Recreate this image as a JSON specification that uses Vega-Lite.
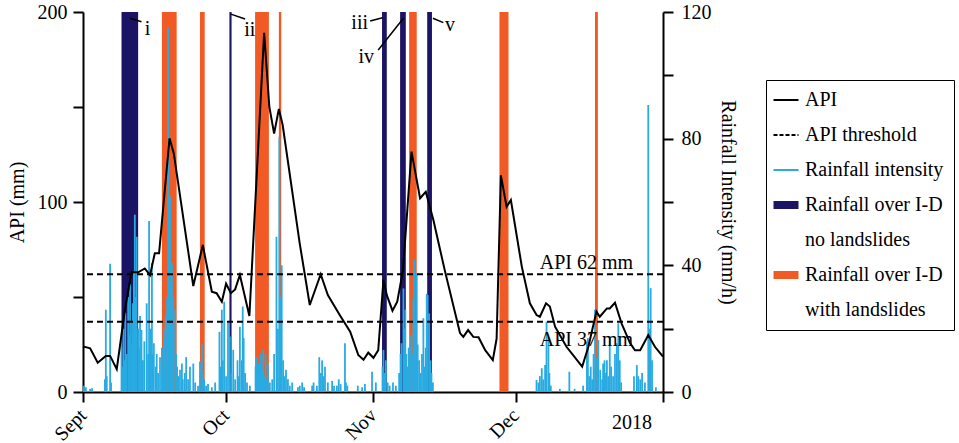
{
  "$schema": "https://vega.github.io/schema/vega-lite/v6.json",
  "width": 580,
  "height": 380,
  "autosize": {"type": "pad"},
  "padding": {"left": 7, "top": 2, "right": 0, "bottom": 0},
  "background": "white",
  "config": {
    "view": {"stroke": null},
    "font": "Liberation Serif",
    "axis": {
      "labelFont": "Liberation Serif", "titleFont": "Liberation Serif",
      "labelFontSize": 20, "titleFontSize": 20, "titleFontWeight": "normal",
      "labelColor": "black", "titleColor": "black",
      "domainColor": "black", "tickColor": "black",
      "domainWidth": 2, "tickWidth": 2, "tickSize": 10, "grid": false
    },
    "text": {"font": "Liberation Serif", "fontSize": 20, "color": "black"}
  },
  "datasets": {
    "bands": [
      {"start": 8.1, "end": 11.6, "type": "Rainfall over I-D (no landslides)"},
      {"start": 16.6, "end": 19.7, "type": "Rainfall over I-D (with landslides)"},
      {"start": 24.6, "end": 25.6, "type": "Rainfall over I-D (with landslides)"},
      {"start": 30.8, "end": 31.25, "type": "Rainfall over I-D (no landslides)"},
      {"start": 36.2, "end": 39.1, "type": "Rainfall over I-D (with landslides)"},
      {"start": 41.2, "end": 41.7, "type": "Rainfall over I-D (with landslides)"},
      {"start": 62.9, "end": 63.9, "type": "Rainfall over I-D (no landslides)"},
      {"start": 66.7, "end": 67.9, "type": "Rainfall over I-D (no landslides)"},
      {"start": 68.6, "end": 70.2, "type": "Rainfall over I-D (with landslides)"},
      {"start": 72.4, "end": 73.4, "type": "Rainfall over I-D (no landslides)"},
      {"start": 87.6, "end": 89.5, "type": "Rainfall over I-D (with landslides)"},
      {"start": 107.7, "end": 108.3, "type": "Rainfall over I-D (with landslides)"}
    ],
    "rain": [
      {"day": 0.2, "mmh": 2}, {"day": 0.6, "mmh": 1.5}, {"day": 1.5, "mmh": 1}, {"day": 1.9, "mmh": 1.2},
      {"day": 4.6, "mmh": 4}, {"day": 4.8, "mmh": 26}, {"day": 5.0, "mmh": 5}, {"day": 5.7, "mmh": 40.5}, {"day": 5.9, "mmh": 3},
      {"day": 8.1, "mmh": 14}, {"day": 8.3, "mmh": 8}, {"day": 8.5, "mmh": 20}, {"day": 8.7, "mmh": 10}, {"day": 8.9, "mmh": 25},
      {"day": 9.2, "mmh": 12}, {"day": 9.5, "mmh": 30}, {"day": 9.7, "mmh": 18}, {"day": 9.9, "mmh": 34}, {"day": 10.1, "mmh": 22},
      {"day": 10.3, "mmh": 15}, {"day": 10.5, "mmh": 28}, {"day": 10.7, "mmh": 38}, {"day": 10.9, "mmh": 56}, {"day": 11.1, "mmh": 30},
      {"day": 11.3, "mmh": 49}, {"day": 11.6, "mmh": 20}, {"day": 11.8, "mmh": 14}, {"day": 12.0, "mmh": 24}, {"day": 12.3, "mmh": 19.6},
      {"day": 12.6, "mmh": 10}, {"day": 12.9, "mmh": 16}, {"day": 13.4, "mmh": 28}, {"day": 13.7, "mmh": 12}, {"day": 13.9, "mmh": 54},
      {"day": 14.2, "mmh": 20}, {"day": 14.5, "mmh": 40.7}, {"day": 14.7, "mmh": 12}, {"day": 14.9, "mmh": 15.4}, {"day": 15.3, "mmh": 8},
      {"day": 15.5, "mmh": 12}, {"day": 15.8, "mmh": 6}, {"day": 16.2, "mmh": 11}, {"day": 16.6, "mmh": 14}, {"day": 16.8, "mmh": 8},
      {"day": 17.0, "mmh": 20}, {"day": 17.2, "mmh": 17}, {"day": 17.4, "mmh": 24}, {"day": 17.7, "mmh": 30}, {"day": 17.9, "mmh": 115},
      {"day": 18.2, "mmh": 35}, {"day": 18.3, "mmh": 61.7}, {"day": 18.5, "mmh": 25}, {"day": 18.7, "mmh": 40.7}, {"day": 18.9, "mmh": 20},
      {"day": 19.0, "mmh": 30}, {"day": 19.4, "mmh": 26}, {"day": 19.6, "mmh": 12}, {"day": 19.8, "mmh": 8}, {"day": 20.1, "mmh": 5},
      {"day": 20.4, "mmh": 7}, {"day": 20.8, "mmh": 9}, {"day": 21.0, "mmh": 4}, {"day": 21.4, "mmh": 6}, {"day": 21.7, "mmh": 11},
      {"day": 22.1, "mmh": 4}, {"day": 22.5, "mmh": 8}, {"day": 23.2, "mmh": 9}, {"day": 23.6, "mmh": 3}, {"day": 24.2, "mmh": 2},
      {"day": 24.6, "mmh": 9.6}, {"day": 25.0, "mmh": 15.4}, {"day": 25.2, "mmh": 6}, {"day": 25.5, "mmh": 4}, {"day": 25.9, "mmh": 2},
      {"day": 26.3, "mmh": 2.5}, {"day": 27.1, "mmh": 1.5}, {"day": 27.8, "mmh": 3}, {"day": 28.7, "mmh": 19}, {"day": 28.9, "mmh": 8},
      {"day": 29.2, "mmh": 26}, {"day": 29.4, "mmh": 10}, {"day": 29.7, "mmh": 28.5}, {"day": 30.1, "mmh": 5}, {"day": 30.5, "mmh": 22},
      {"day": 30.9, "mmh": 17.5}, {"day": 31.2, "mmh": 6}, {"day": 31.6, "mmh": 13.3}, {"day": 32.0, "mmh": 4}, {"day": 32.5, "mmh": 10},
      {"day": 32.7, "mmh": 5}, {"day": 33.0, "mmh": 20.6}, {"day": 33.4, "mmh": 10}, {"day": 33.6, "mmh": 27}, {"day": 33.8, "mmh": 17},
      {"day": 34.1, "mmh": 6}, {"day": 34.5, "mmh": 3}, {"day": 35.1, "mmh": 2},
      {"day": 36.3, "mmh": 8}, {"day": 36.5, "mmh": 11}, {"day": 36.7, "mmh": 6}, {"day": 37.0, "mmh": 9}, {"day": 37.2, "mmh": 4},
      {"day": 37.4, "mmh": 12}, {"day": 37.7, "mmh": 7}, {"day": 37.9, "mmh": 13.3}, {"day": 38.2, "mmh": 5}, {"day": 38.4, "mmh": 12},
      {"day": 38.6, "mmh": 4}, {"day": 38.9, "mmh": 9}, {"day": 39.3, "mmh": 3}, {"day": 39.8, "mmh": 4}, {"day": 40.2, "mmh": 12},
      {"day": 40.7, "mmh": 49}, {"day": 41.0, "mmh": 20}, {"day": 41.3, "mmh": 80.6}, {"day": 41.6, "mmh": 30}, {"day": 41.8, "mmh": 40},
      {"day": 42.1, "mmh": 10}, {"day": 42.4, "mmh": 5}, {"day": 42.7, "mmh": 7}, {"day": 43.1, "mmh": 4}, {"day": 43.5, "mmh": 2},
      {"day": 44.0, "mmh": 3}, {"day": 45.2, "mmh": 1.5}, {"day": 45.6, "mmh": 2}, {"day": 46.1, "mmh": 3}, {"day": 46.5, "mmh": 1.5},
      {"day": 48.2, "mmh": 2}, {"day": 48.5, "mmh": 3}, {"day": 49.2, "mmh": 2}, {"day": 49.7, "mmh": 11}, {"day": 50.0, "mmh": 6},
      {"day": 50.3, "mmh": 10}, {"day": 50.6, "mmh": 5}, {"day": 50.9, "mmh": 8}, {"day": 51.5, "mmh": 3}, {"day": 52.4, "mmh": 3.5},
      {"day": 52.8, "mmh": 2}, {"day": 53.4, "mmh": 2}, {"day": 53.8, "mmh": 4}, {"day": 54.2, "mmh": 2.5}, {"day": 55.1, "mmh": 15.4},
      {"day": 55.3, "mmh": 3}, {"day": 55.6, "mmh": 2}, {"day": 57.8, "mmh": 2}, {"day": 58.7, "mmh": 1.5}, {"day": 59.3, "mmh": 2.5},
      {"day": 60.8, "mmh": 6.4}, {"day": 61.6, "mmh": 3},
      {"day": 63.0, "mmh": 8}, {"day": 63.2, "mmh": 13.3}, {"day": 63.4, "mmh": 6}, {"day": 63.7, "mmh": 10}, {"day": 64.1, "mmh": 3},
      {"day": 64.5, "mmh": 2}, {"day": 65.2, "mmh": 3}, {"day": 65.8, "mmh": 2}, {"day": 66.5, "mmh": 6}, {"day": 66.8, "mmh": 12},
      {"day": 67.0, "mmh": 15.4}, {"day": 67.4, "mmh": 32.7}, {"day": 67.6, "mmh": 20}, {"day": 67.8, "mmh": 26}, {"day": 68.0, "mmh": 12},
      {"day": 68.3, "mmh": 8}, {"day": 68.5, "mmh": 14}, {"day": 68.7, "mmh": 10}, {"day": 69.0, "mmh": 18}, {"day": 69.2, "mmh": 12},
      {"day": 69.5, "mmh": 29.6}, {"day": 69.7, "mmh": 41.7}, {"day": 69.9, "mmh": 22}, {"day": 70.2, "mmh": 37.5}, {"day": 70.4, "mmh": 15},
      {"day": 70.7, "mmh": 10}, {"day": 71.0, "mmh": 6}, {"day": 71.3, "mmh": 12}, {"day": 71.6, "mmh": 23.3}, {"day": 71.8, "mmh": 8},
      {"day": 72.1, "mmh": 14}, {"day": 72.3, "mmh": 31}, {"day": 72.5, "mmh": 30.6}, {"day": 72.8, "mmh": 24.8}, {"day": 73.1, "mmh": 10},
      {"day": 73.3, "mmh": 6}, {"day": 73.6, "mmh": 3},
      {"day": 95.4, "mmh": 3.8}, {"day": 95.8, "mmh": 3}, {"day": 96.1, "mmh": 5}, {"day": 96.5, "mmh": 7.5}, {"day": 96.8, "mmh": 4},
      {"day": 97.2, "mmh": 8.5}, {"day": 97.5, "mmh": 22.2}, {"day": 97.9, "mmh": 17.4}, {"day": 98.1, "mmh": 6}, {"day": 98.4, "mmh": 2},
      {"day": 100.3, "mmh": 1}, {"day": 102.3, "mmh": 6.4}, {"day": 103.4, "mmh": 1}, {"day": 105.2, "mmh": 2}, {"day": 106.0, "mmh": 15.9},
      {"day": 106.2, "mmh": 17}, {"day": 106.5, "mmh": 5}, {"day": 106.8, "mmh": 8}, {"day": 107.1, "mmh": 4}, {"day": 107.4, "mmh": 12},
      {"day": 107.7, "mmh": 26}, {"day": 107.9, "mmh": 10.7}, {"day": 108.3, "mmh": 13.8}, {"day": 108.4, "mmh": 16.4}, {"day": 108.8, "mmh": 7},
      {"day": 109.2, "mmh": 4}, {"day": 109.4, "mmh": 9}, {"day": 109.7, "mmh": 10}, {"day": 109.9, "mmh": 6}, {"day": 110.2, "mmh": 10},
      {"day": 110.5, "mmh": 5}, {"day": 110.8, "mmh": 17.5}, {"day": 111.1, "mmh": 8}, {"day": 111.5, "mmh": 5}, {"day": 111.9, "mmh": 12},
      {"day": 112.3, "mmh": 15.4}, {"day": 112.6, "mmh": 21.7}, {"day": 112.9, "mmh": 10}, {"day": 113.2, "mmh": 3}, {"day": 115.9, "mmh": 5},
      {"day": 116.5, "mmh": 8.5}, {"day": 116.8, "mmh": 5}, {"day": 117.2, "mmh": 4}, {"day": 117.6, "mmh": 6}, {"day": 118.2, "mmh": 3},
      {"day": 118.9, "mmh": 90.6}, {"day": 119.2, "mmh": 20}, {"day": 119.4, "mmh": 32.8}, {"day": 119.7, "mmh": 10}, {"day": 120.5, "mmh": 1.5}
    ],
    "api": [
      {"day": 0, "api": 24}, {"day": 1.5, "api": 23}, {"day": 3.1, "api": 15.4}, {"day": 4.8, "api": 19}, {"day": 5.7, "api": 19},
      {"day": 7.1, "api": 12}, {"day": 8.8, "api": 43}, {"day": 10.2, "api": 63}, {"day": 11.6, "api": 63}, {"day": 13.0, "api": 65},
      {"day": 14.1, "api": 61.5}, {"day": 15.1, "api": 73}, {"day": 16.0, "api": 73}, {"day": 18.2, "api": 133.5}, {"day": 19.1, "api": 125.6},
      {"day": 23.2, "api": 55.8}, {"day": 25.2, "api": 77.4}, {"day": 27.1, "api": 52.8}, {"day": 28.1, "api": 52}, {"day": 29.2, "api": 47.5},
      {"day": 30.1, "api": 57}, {"day": 31.1, "api": 52}, {"day": 32.0, "api": 54}, {"day": 33.0, "api": 61.6}, {"day": 35.0, "api": 40},
      {"day": 38.1, "api": 189}, {"day": 39.2, "api": 150}, {"day": 40.2, "api": 136}, {"day": 41.2, "api": 149}, {"day": 42.0, "api": 140.5},
      {"day": 45.6, "api": 78}, {"day": 47.7, "api": 45.8}, {"day": 50.0, "api": 62}, {"day": 51.5, "api": 51}, {"day": 54.0, "api": 40.5},
      {"day": 56.2, "api": 31.7}, {"day": 57.9, "api": 19.5}, {"day": 59.0, "api": 17}, {"day": 60.0, "api": 20.7}, {"day": 61.1, "api": 18},
      {"day": 62.1, "api": 22}, {"day": 63.2, "api": 59}, {"day": 63.9, "api": 51}, {"day": 65.1, "api": 42.8}, {"day": 66.1, "api": 47.5},
      {"day": 67.3, "api": 64}, {"day": 69.1, "api": 126.5}, {"day": 70.9, "api": 102}, {"day": 72.1, "api": 105.4}, {"day": 73.7, "api": 90.5},
      {"day": 76.1, "api": 64}, {"day": 79.3, "api": 31}, {"day": 80.0, "api": 29}, {"day": 81.0, "api": 32.6}, {"day": 82.1, "api": 29},
      {"day": 83.2, "api": 28.8}, {"day": 84.6, "api": 22}, {"day": 86.2, "api": 16.8}, {"day": 87.0, "api": 28}, {"day": 87.9, "api": 114},
      {"day": 89.1, "api": 97.5}, {"day": 90.0, "api": 101}, {"day": 92.3, "api": 66}, {"day": 94.0, "api": 46.7}, {"day": 95.4, "api": 40.5},
      {"day": 96.1, "api": 39.6}, {"day": 97.4, "api": 46.7}, {"day": 98.2, "api": 45}, {"day": 99.3, "api": 34.4}, {"day": 101.7, "api": 23.8},
      {"day": 105.0, "api": 13.3}, {"day": 106.3, "api": 23.8}, {"day": 108.0, "api": 42.3}, {"day": 108.7, "api": 39.6}, {"day": 110.2, "api": 44},
      {"day": 110.8, "api": 44}, {"day": 111.9, "api": 47}, {"day": 113.3, "api": 36}, {"day": 115.1, "api": 25.6}, {"day": 116.1, "api": 22},
      {"day": 117.2, "api": 22}, {"day": 118.9, "api": 30}, {"day": 120.3, "api": 23.8}, {"day": 122.0, "api": 18.6}
    ],
    "thresholds": [{"thr": 62, "label": "API 62 mm", "ly": 65}, {"thr": 37, "label": "API 37 mm", "ly": 24.4}],
    "notes": [
      {"lab": "i", "d": 13.6, "v": 191, "d1": 9.9, "v1": 196.7, "d2": 12.3, "v2": 194.9},
      {"lab": "ii", "d": 35.1, "v": 190.5, "d1": 31.1, "v1": 198.9, "d2": 34.1, "v2": 196.3},
      {"lab": "iii", "d": 58.2, "v": 194, "d1": 60.4, "v1": 195.3, "d2": 63.0, "v2": 197},
      {"lab": "iv", "d": 59.6, "v": 176.5, "d1": 62.1, "v1": 180, "d2": 67.4, "v2": 196.7},
      {"lab": "v", "d": 77.2, "v": 193.2, "d1": 73.6, "v1": 196.7, "d2": 75.8, "v2": 194.4}
    ],
    "yearlabel": [{"day": 122, "api": -11, "text": "2018"}]
  },
  "layer": [
    {
      "data": {"name": "bands"},
      "mark": {"type": "rect", "opacity": 1},
      "encoding": {
        "x": {
          "field": "start", "type": "quantitative",
          "scale": {"domain": [0, 122], "nice": false, "zero": false},
          "axis": {
            "title": null, "values": [0, 30, 61, 91, 122],
            "labelExpr": "datum.value == 0 ? 'Sept' : datum.value == 30 ? 'Oct' : datum.value == 61 ? 'Nov' : datum.value == 91 ? 'Dec' : ''",
            "labelAngle": -45, "labelAlign": "right", "labelBaseline": "middle",
            "labelOverlap": false, "labelFlush": false, "labelPadding": 10
          }
        },
        "x2": {"field": "end"},
        "color": {
          "field": "type", "type": "nominal",
          "scale": {
            "domain": ["API", "API threshold", "Rainfall intensity", "Rainfall over I-D (no landslides)", "no landslides", "Rainfall over I-D (with landslides)", "with landslides"],
            "range": ["black", "black", "#29abe2", "#1b1464", "#1b1464", "#f15a24", "#f15a24"]
          },
          "legend": {
            "title": null, "orient": "none", "legendX": 683, "legendY": 68,
            "strokeColor": "black", "fillColor": "white", "padding": 10,
            "labelFont": "Liberation Serif", "labelFontSize": 20, "labelColor": "black", "labelLimit": 400,
            "labelOffset": 9, "rowPadding": 15, "symbolSize": 625, "symbolOpacity": 1,
            "labelExpr": "datum.label == 'Rainfall over I-D (no landslides)' || datum.label == 'Rainfall over I-D (with landslides)' ? 'Rainfall over I-D' : datum.label",
            "encode": {
              "symbols": {"update": {
                "shape": {"signal": "datum.value == 'Rainfall over I-D (no landslides)' || datum.value == 'Rainfall over I-D (with landslides)' || datum.value == 'no landslides' || datum.value == 'with landslides' ? 'M-1,-0.32H1V0.32H-1Z' : 'stroke'"},
                "stroke": {"signal": "datum.value == 'Rainfall intensity' ? '#29abe2' : datum.value == 'Rainfall over I-D (no landslides)' ? '#1b1464' : datum.value == 'Rainfall over I-D (with landslides)' ? '#f15a24' : 'black'"},
                "strokeWidth": {"signal": "datum.value == 'API' || datum.value == 'API threshold' || datum.value == 'Rainfall intensity' ? 2 : 0"},
                "strokeDash": {"signal": "datum.value == 'API threshold' ? [4, 2] : [1, 0]"},
                "opacity": {"signal": "datum.value == 'no landslides' || datum.value == 'with landslides' ? 0 : 1"}
              }}
            }
          }
        }
      }
    },
    {
      "data": {"name": "rain"},
      "mark": {"type": "rule", "color": "#29abe2", "strokeWidth": 1.8},
      "encoding": {
        "x": {"field": "day", "type": "quantitative"},
        "y": {
          "field": "mmh", "type": "quantitative",
          "scale": {"domain": [0, 120], "nice": false},
          "axis": {
            "orient": "right", "title": "Rainfall Intensity (mm/h)",
            "values": [0, 20, 40, 60, 80, 100, 120],
            "labelExpr": "datum.value % 40 == 0 ? datum.label : ''",
            "labelPadding": 8, "titlePadding": 6
          }
        },
        "y2": {"datum": 0}
      }
    },
    {
      "data": {"name": "api"},
      "mark": {"type": "line", "color": "black", "strokeWidth": 2},
      "encoding": {
        "x": {"field": "day", "type": "quantitative"},
        "y": {
          "field": "api", "type": "quantitative",
          "scale": {"domain": [0, 200], "nice": false},
          "axis": {
            "orient": "left", "title": "API (mm)",
            "values": [0, 50, 100, 150, 200],
            "labelExpr": "datum.value % 100 == 0 ? datum.label : ''",
            "labelPadding": 6, "titlePadding": 10
          }
        }
      }
    },
    {
      "data": {"name": "thresholds"},
      "mark": {"type": "rule", "color": "black", "strokeWidth": 2, "strokeDash": [6, 4]},
      "encoding": {
        "y": {"field": "thr", "type": "quantitative", "scale": {"domain": [0, 200], "nice": false}, "axis": null}
      }
    },
    {
      "data": {"name": "thresholds"},
      "mark": {"type": "text", "align": "center", "baseline": "alphabetic", "fontSize": 20},
      "encoding": {
        "x": {"datum": 105.9, "type": "quantitative"},
        "y": {"field": "ly", "type": "quantitative", "scale": {"domain": [0, 200], "nice": false}, "axis": null},
        "text": {"field": "label"}
      }
    },
    {
      "data": {"name": "notes"},
      "mark": {"type": "rule", "color": "black", "strokeWidth": 1.5},
      "encoding": {
        "x": {"field": "d1", "type": "quantitative"},
        "x2": {"field": "d2"},
        "y": {"field": "v1", "type": "quantitative", "scale": {"domain": [0, 200], "nice": false}, "axis": null},
        "y2": {"field": "v2"}
      }
    },
    {
      "data": {"name": "notes"},
      "mark": {"type": "text", "align": "center", "baseline": "middle", "fontSize": 20},
      "encoding": {
        "x": {"field": "d", "type": "quantitative"},
        "y": {"field": "v", "type": "quantitative", "scale": {"domain": [0, 200], "nice": false}, "axis": null},
        "text": {"field": "lab"}
      }
    },
    {
      "data": {"name": "yearlabel"},
      "mark": {"type": "text", "align": "right", "baseline": "top", "dx": -11, "fontSize": 20},
      "encoding": {
        "x": {"field": "day", "type": "quantitative"},
        "y": {"field": "api", "type": "quantitative", "scale": {"domain": [0, 200], "nice": false}, "axis": null},
        "text": {"field": "text"}
      }
    }
  ],
  "resolve": {"scale": {"y": "independent"}}
}
